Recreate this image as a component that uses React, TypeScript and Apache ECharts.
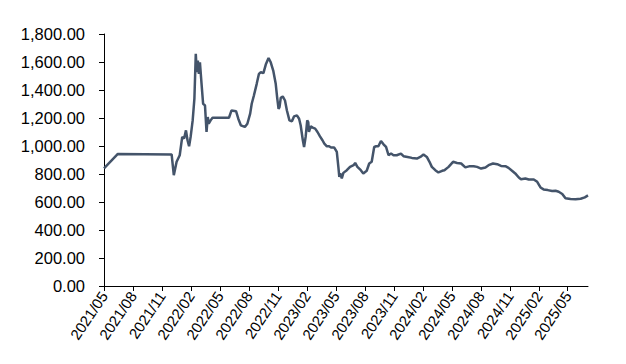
import React, { useEffect, useRef } from "react";
import * as echarts from "echarts";

const dates: string[] = [
  "2021-05-01","2021-06-14","2021-12-01","2021-12-08","2021-12-17","2021-12-27",
  "2022-01-04","2022-01-10","2022-01-16","2022-01-21","2022-01-26","2022-01-31",
  "2022-02-06","2022-02-11","2022-02-15","2022-02-18","2022-02-21","2022-02-24","2022-02-27",
  "2022-03-04","2022-03-09","2022-03-15","2022-03-20","2022-03-24","2022-03-27",
  "2022-04-02","2022-04-08","2022-05-30","2022-06-07","2022-06-21","2022-06-28",
  "2022-07-06","2022-07-19","2022-07-27","2022-08-05","2022-08-10","2022-08-17","2022-08-26",
  "2022-09-02","2022-09-08","2022-09-16","2022-09-24","2022-10-02","2022-10-09","2022-10-17","2022-10-25","2022-10-30",
  "2022-11-03","2022-11-06","2022-11-10","2022-11-16","2022-11-23","2022-11-29",
  "2022-12-07","2022-12-15","2022-12-22","2022-12-31",
  "2023-01-07","2023-01-12","2023-01-19","2023-01-23","2023-01-28",
  "2023-02-02","2023-02-05","2023-02-07","2023-02-12","2023-02-18","2023-02-25",
  "2023-03-04","2023-03-12","2023-03-20","2023-03-26",
  "2023-04-03","2023-04-10","2023-04-16","2023-04-26",
  "2023-05-04","2023-05-09","2023-05-12","2023-05-15","2023-05-20","2023-05-25",
  "2023-06-05","2023-06-15","2023-06-26","2023-07-01","2023-07-08","2023-07-19","2023-07-27",
  "2023-08-07","2023-08-15","2023-08-23","2023-08-31",
  "2023-09-06","2023-09-13","2023-09-21","2023-09-29",
  "2023-10-07","2023-10-15","2023-10-23","2023-10-31",
  "2023-11-10","2023-11-23","2023-12-01","2023-12-14","2023-12-28",
  "2024-01-13","2024-01-24","2024-02-03","2024-02-13","2024-02-21","2024-02-28",
  "2024-03-10","2024-03-20","2024-04-01","2024-04-08","2024-04-21",
  "2024-05-05","2024-05-18","2024-05-31","2024-06-13","2024-06-27",
  "2024-07-09","2024-07-20","2024-08-02","2024-08-16","2024-08-26",
  "2024-09-09","2024-09-22","2024-10-04","2024-10-18","2024-10-28",
  "2024-11-08","2024-11-18","2024-11-29","2024-12-06","2024-12-20","2024-12-31",
  "2025-01-16","2025-01-27","2025-02-06","2025-02-15","2025-02-27",
  "2025-03-13","2025-03-24","2025-04-03","2025-04-14","2025-04-24",
  "2025-05-10","2025-05-26","2025-06-11","2025-06-24","2025-07-04",
];

const values: number[] = [
  840,943,940,792,887,934,
  1065,1053,1112,1041,998,1065,
  1183,1338,1658,1527,1610,1515,1598,
  1444,1302,1290,1100,1207,1159,
  1183,1202,1202,1254,1249,1195,
  1148,1136,1159,1231,1302,1361,1444,
  1515,1527,1520,1586,1629,1598,1539,1444,1338,
  1266,1278,1345,1354,1325,1254,
  1183,1176,1212,1219,
  1195,1148,1041,993,1065,
  1183,1171,1100,1140,1131,1124,
  1100,1069,1041,1017,
  998,998,989,989,
  958,851,780,804,768,808,
  827,851,863,879,851,827,804,
  823,875,887,993,
  998,998,1036,1012,
  993,934,946,934,
  934,946,927,922,915,
  910,922,939,922,887,851,
  827,811,823,827,851,
  887,879,875,847,856,
  856,851,839,847,863,
  875,870,858,856,844,
  823,804,775,763,768,761,
  761,744,704,690,685,
  678,680,673,657,626,
  621,619,623,633,647,
];

const yTicks: number[] = [0, 200, 400, 600, 800, 1000, 1200, 1400, 1600, 1800];
const xTickMonths: number[] = [0, 3, 6, 9, 12, 15, 18, 21, 24, 27, 30, 33, 36, 39, 42, 45, 48];

const START_YEAR = 2021;
const START_MONTH = 5;

function monthIndex(d: string): number {
  const [y, m, day] = d.split("-").map(Number);
  const dim = new Date(y, m, 0).getDate();
  return (y - START_YEAR) * 12 + (m - START_MONTH) + (day - 1) / dim;
}

function monthLabel(v: number): string {
  const total = Math.round(v) + (START_MONTH - 1);
  const y = START_YEAR + Math.floor(total / 12);
  const m = (total % 12) + 1;
  return `${y}/${m < 10 ? "0" + m : m}`;
}

export default function App() {
  const ref = useRef<HTMLDivElement>(null);
  useEffect(() => {
    if (!ref.current) return;
    const chart = echarts.init(ref.current, undefined, { renderer: "svg" });
    const data = dates.map((d, i) => [monthIndex(d), values[i]]);
    const font = "Arial, 'Liberation Sans', sans-serif";
    chart.setOption({
      animation: false,
      backgroundColor: "#ffffff",
      grid: { left: 104, right: 38, top: 34, bottom: 78, containLabel: false },
      xAxis: {
        type: "value",
        min: 0,
        max: data[data.length - 1][0],
        interval: 3,
        splitLine: { show: false },
        axisLine: { show: true, lineStyle: { color: "#000", width: 1 } },
        axisTick: {
          show: true,
          length: 5,
          inside: false,
          customValues: xTickMonths,
          lineStyle: { color: "#000" },
        },
        axisLabel: {
          customValues: xTickMonths,
          formatter: (v: number) => monthLabel(v),
          rotate: 56,
          margin: 7,
          color: "#000",
          fontSize: 15,
          fontFamily: font,
        },
      },
      yAxis: {
        type: "value",
        min: 0,
        max: 1800,
        interval: 200,
        splitLine: { show: false },
        axisLine: { show: true, lineStyle: { color: "#000", width: 1 } },
        axisTick: { show: true, length: 5, inside: false, lineStyle: { color: "#000" } },
        axisLabel: {
          customValues: yTicks,
          formatter: (v: number) =>
            v.toLocaleString("en-US", { minimumFractionDigits: 2, maximumFractionDigits: 2 }),
          color: "#000",
          fontSize: 16.5,
          fontFamily: font,
          margin: 19,
        },
      },
      series: [
        {
          type: "line",
          data,
          showSymbol: false,
          symbol: "none",
          lineStyle: { color: "#44546A", width: 2.5 },
        },
      ],
    });
    return () => chart.dispose();
  }, []);
  return (
    <div
      ref={ref}
      style={{ position: "fixed", left: 0, top: 0, width: 626, height: 364, background: "#fff" }}
    />
  );
}
